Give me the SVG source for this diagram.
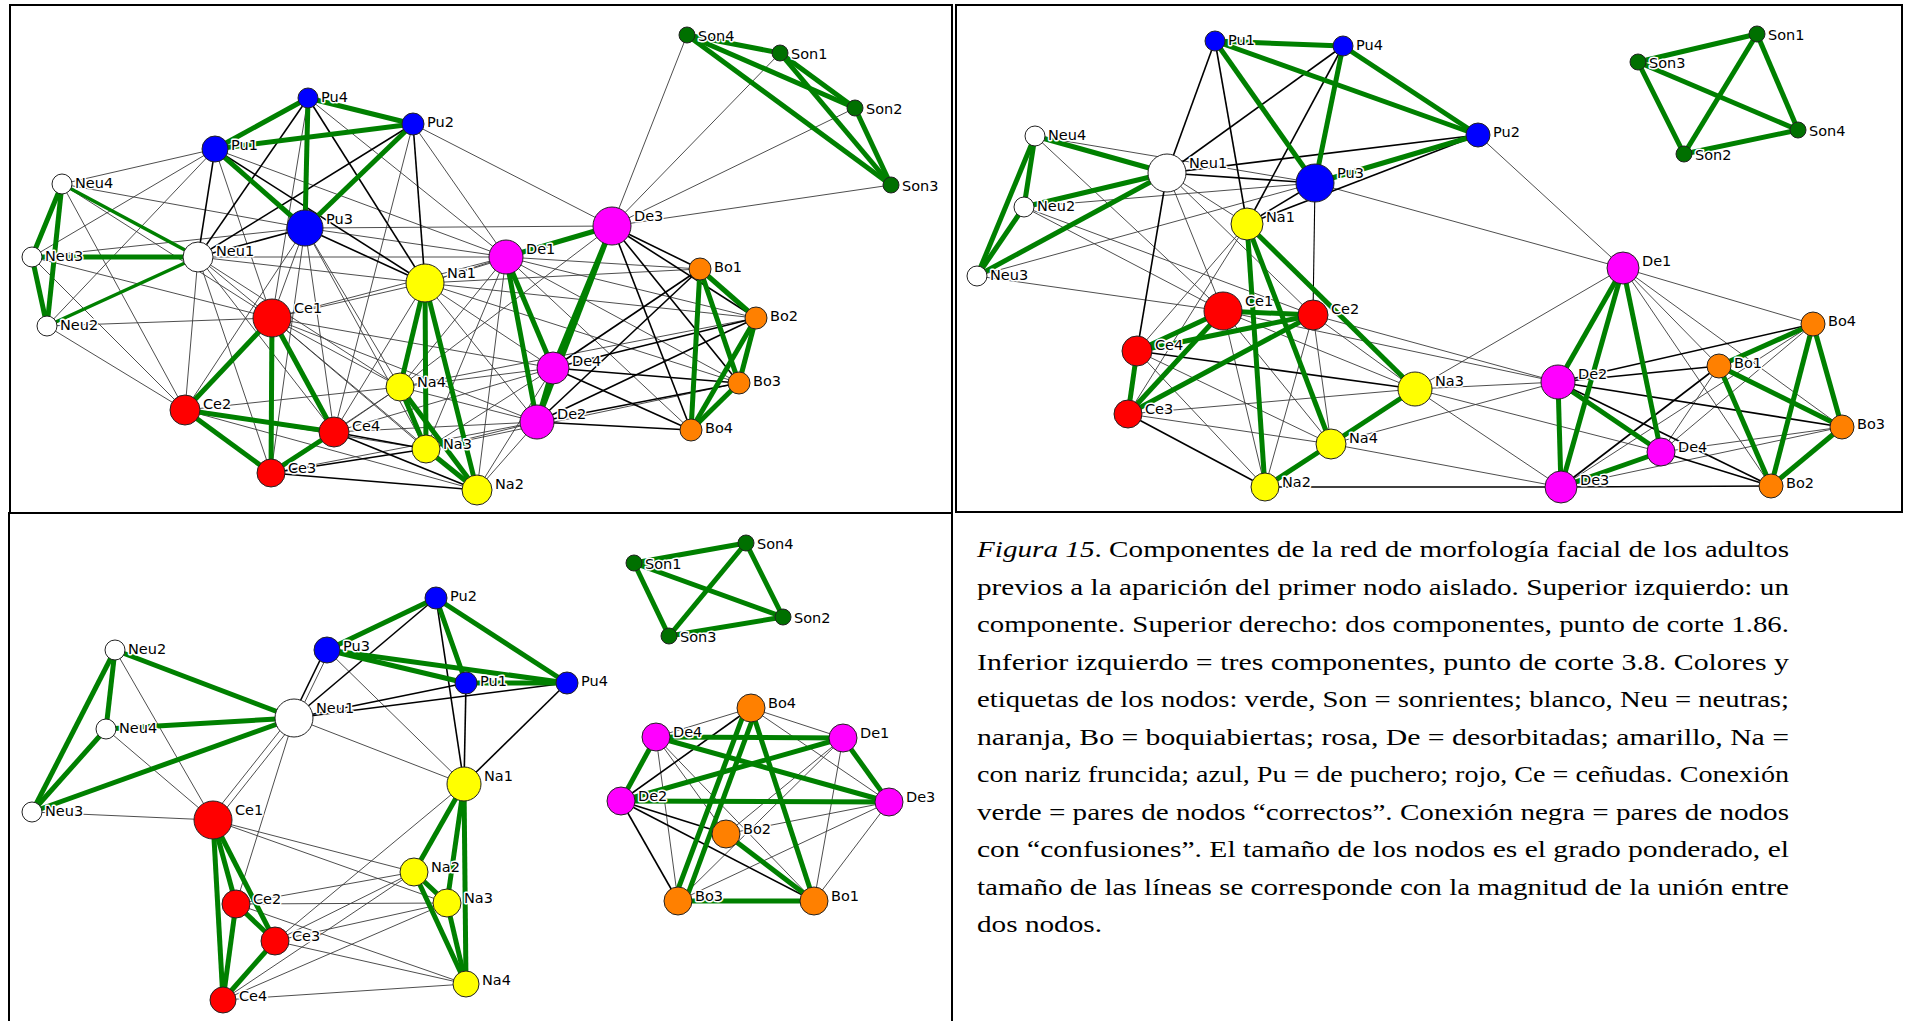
<svg xmlns="http://www.w3.org/2000/svg" width="1906" height="1021" viewBox="0 0 1906 1021">
<style>
.g{stroke:#008000;stroke-width:5}
.k{stroke:#000;stroke-width:1.6}
.t{stroke:#3a3a3a;stroke-width:0.9}
.n{stroke:#222;stroke-width:1}
.pu{fill:#0000ff}.neu{fill:#fff}.ce{fill:#ff0000}.na{fill:#ffff00}.de{fill:#ff00ff}.bo{fill:#ff8000}.so{fill:#007000}
.lb{font-family:'DejaVu Sans',Verdana,sans-serif;font-size:14.5px;fill:#000;stroke:#fff;stroke-width:3px;paint-order:stroke;stroke-linejoin:round}
.frame{fill:none;stroke:#000;stroke-width:2}
.cap{font-family:'Liberation Serif','Times New Roman',serif;font-size:24px;fill:#000}
</style>
<rect width="1906" height="1021" fill="#fff"/>
<g id="frames">
<rect class="frame" x="10" y="5" width="942" height="508"/>
<rect class="frame" x="956" y="5" width="946" height="507"/>
<rect class="frame" x="9" y="513" width="943" height="520"/>
</g>
<g id="connectors">
<!-- top-left thin -->
<line class="t" x1="215" y1="149" x2="62" y2="184"/>
<line class="t" x1="215" y1="149" x2="32" y2="257"/>
<line class="t" x1="215" y1="149" x2="47" y2="326"/>
<line class="t" x1="215" y1="149" x2="272" y2="318"/>
<line class="t" x1="215" y1="149" x2="506" y2="257"/>
<line class="t" x1="62" y1="184" x2="305" y2="228"/>
<line class="t" x1="62" y1="184" x2="185" y2="410"/>
<line class="t" x1="62" y1="184" x2="272" y2="318"/>
<line class="t" x1="32" y1="257" x2="305" y2="228"/>
<line class="t" x1="32" y1="257" x2="185" y2="410"/>
<line class="t" x1="32" y1="257" x2="272" y2="318"/>
<line class="t" x1="47" y1="326" x2="185" y2="410"/>
<line class="t" x1="47" y1="326" x2="272" y2="318"/>
<line class="t" x1="308" y1="98" x2="272" y2="318"/>
<line class="t" x1="308" y1="98" x2="506" y2="257"/>
<line class="t" x1="413" y1="124" x2="612" y2="226"/>
<line class="t" x1="413" y1="124" x2="506" y2="257"/>
<line class="t" x1="413" y1="124" x2="334" y2="432"/>
<line class="t" x1="305" y1="228" x2="612" y2="226"/>
<line class="t" x1="305" y1="228" x2="506" y2="257"/>
<line class="t" x1="305" y1="228" x2="272" y2="318"/>
<line class="t" x1="305" y1="228" x2="185" y2="410"/>
<line class="t" x1="305" y1="228" x2="271" y2="473"/>
<line class="t" x1="305" y1="228" x2="334" y2="432"/>
<line class="t" x1="305" y1="228" x2="400" y2="387"/>
<line class="t" x1="305" y1="228" x2="426" y2="449"/>
<line class="t" x1="198" y1="257" x2="272" y2="318"/>
<line class="t" x1="198" y1="257" x2="185" y2="410"/>
<line class="t" x1="198" y1="257" x2="271" y2="473"/>
<line class="t" x1="198" y1="257" x2="334" y2="432"/>
<line class="t" x1="198" y1="257" x2="425" y2="283"/>
<line class="t" x1="198" y1="257" x2="400" y2="387"/>
<line class="t" x1="198" y1="257" x2="506" y2="257"/>
<line class="t" x1="272" y1="318" x2="425" y2="283"/>
<line class="t" x1="272" y1="318" x2="400" y2="387"/>
<line class="t" x1="272" y1="318" x2="426" y2="449"/>
<line class="t" x1="272" y1="318" x2="477" y2="490"/>
<line class="t" x1="272" y1="318" x2="506" y2="257"/>
<line class="t" x1="272" y1="318" x2="553" y2="368"/>
<line class="t" x1="272" y1="318" x2="537" y2="422"/>
<line class="t" x1="185" y1="410" x2="400" y2="387"/>
<line class="t" x1="185" y1="410" x2="426" y2="449"/>
<line class="t" x1="185" y1="410" x2="477" y2="490"/>
<line class="t" x1="271" y1="473" x2="400" y2="387"/>
<line class="t" x1="334" y1="432" x2="400" y2="387"/>
<line class="t" x1="334" y1="432" x2="425" y2="283"/>
<line class="t" x1="334" y1="432" x2="553" y2="368"/>
<line class="t" x1="334" y1="432" x2="537" y2="422"/>
<line class="t" x1="271" y1="473" x2="537" y2="422"/>
<line class="t" x1="425" y1="283" x2="506" y2="257"/>
<line class="t" x1="425" y1="283" x2="553" y2="368"/>
<line class="t" x1="425" y1="283" x2="537" y2="422"/>
<line class="t" x1="425" y1="283" x2="700" y2="269"/>
<line class="t" x1="425" y1="283" x2="756" y2="318"/>
<line class="t" x1="425" y1="283" x2="739" y2="383"/>
<line class="t" x1="400" y1="387" x2="553" y2="368"/>
<line class="t" x1="400" y1="387" x2="537" y2="422"/>
<line class="t" x1="400" y1="387" x2="506" y2="257"/>
<line class="t" x1="400" y1="387" x2="756" y2="318"/>
<line class="t" x1="426" y1="449" x2="553" y2="368"/>
<line class="t" x1="426" y1="449" x2="537" y2="422"/>
<line class="t" x1="426" y1="449" x2="506" y2="257"/>
<line class="t" x1="426" y1="449" x2="739" y2="383"/>
<line class="t" x1="477" y1="490" x2="553" y2="368"/>
<line class="t" x1="477" y1="490" x2="537" y2="422"/>
<line class="t" x1="477" y1="490" x2="506" y2="257"/>
<line class="t" x1="506" y1="257" x2="700" y2="269"/>
<line class="t" x1="506" y1="257" x2="756" y2="318"/>
<line class="t" x1="506" y1="257" x2="739" y2="383"/>
<line class="t" x1="506" y1="257" x2="691" y2="430"/>
<line class="t" x1="612" y1="226" x2="687" y2="35"/>
<line class="t" x1="612" y1="226" x2="780" y2="53"/>
<line class="t" x1="612" y1="226" x2="855" y2="108"/>
<line class="t" x1="612" y1="226" x2="891" y2="185"/>
<line class="t" x1="612" y1="226" x2="425" y2="283"/>
<line class="t" x1="612" y1="226" x2="400" y2="387"/>
<!-- top-left black -->
<line class="k" x1="308" y1="98" x2="198" y2="257"/>
<line class="k" x1="215" y1="149" x2="198" y2="257"/>
<line class="k" x1="413" y1="124" x2="198" y2="257"/>
<line class="k" x1="308" y1="98" x2="425" y2="283"/>
<line class="k" x1="413" y1="124" x2="425" y2="283"/>
<line class="k" x1="215" y1="149" x2="425" y2="283"/>
<line class="k" x1="305" y1="228" x2="425" y2="283"/>
<line class="k" x1="305" y1="228" x2="198" y2="257"/>
<line class="k" x1="334" y1="432" x2="426" y2="449"/>
<line class="k" x1="334" y1="432" x2="477" y2="490"/>
<line class="k" x1="271" y1="473" x2="426" y2="449"/>
<line class="k" x1="271" y1="473" x2="477" y2="490"/>
<line class="k" x1="612" y1="226" x2="700" y2="269"/>
<line class="k" x1="612" y1="226" x2="756" y2="318"/>
<line class="k" x1="612" y1="226" x2="739" y2="383"/>
<line class="k" x1="612" y1="226" x2="691" y2="430"/>
<line class="k" x1="553" y1="368" x2="700" y2="269"/>
<line class="k" x1="553" y1="368" x2="756" y2="318"/>
<line class="k" x1="553" y1="368" x2="739" y2="383"/>
<line class="k" x1="553" y1="368" x2="691" y2="430"/>
<line class="k" x1="537" y1="422" x2="700" y2="269"/>
<line class="k" x1="537" y1="422" x2="756" y2="318"/>
<line class="k" x1="537" y1="422" x2="739" y2="383"/>
<line class="k" x1="537" y1="422" x2="691" y2="430"/>
<!-- top-left green -->
<line class="g" x1="308" y1="98" x2="215" y2="149"/>
<line class="g" x1="308" y1="98" x2="413" y2="124"/>
<line class="g" x1="215" y1="149" x2="413" y2="124"/>
<line class="g" x1="308" y1="98" x2="305" y2="228"/>
<line class="g" x1="215" y1="149" x2="305" y2="228"/>
<line class="g" x1="413" y1="124" x2="305" y2="228"/>
<line class="g" x1="62" y1="184" x2="32" y2="257"/>
<line class="g" x1="62" y1="184" x2="47" y2="326"/>
<line class="g" x1="32" y1="257" x2="47" y2="326"/>
<line class="g" x1="62" y1="184" x2="198" y2="257" style="stroke-width:3.5"/>
<line class="g" x1="32" y1="257" x2="198" y2="257"/>
<line class="g" x1="47" y1="326" x2="198" y2="257" style="stroke-width:3.5"/>
<line class="g" x1="272" y1="318" x2="185" y2="410"/>
<line class="g" x1="272" y1="318" x2="271" y2="473"/>
<line class="g" x1="272" y1="318" x2="334" y2="432"/>
<line class="g" x1="185" y1="410" x2="334" y2="432"/>
<line class="g" x1="185" y1="410" x2="271" y2="473"/>
<line class="g" x1="271" y1="473" x2="334" y2="432"/>
<line class="g" x1="425" y1="283" x2="400" y2="387"/>
<line class="g" x1="425" y1="283" x2="426" y2="449"/>
<line class="g" x1="425" y1="283" x2="477" y2="490"/>
<line class="g" x1="400" y1="387" x2="426" y2="449"/>
<line class="g" x1="400" y1="387" x2="477" y2="490"/>
<line class="g" x1="426" y1="449" x2="477" y2="490"/>
<line class="g" x1="506" y1="257" x2="612" y2="226"/>
<line class="g" x1="506" y1="257" x2="553" y2="368"/>
<line class="g" x1="506" y1="257" x2="537" y2="422"/>
<line class="g" x1="612" y1="226" x2="553" y2="368"/>
<line class="g" x1="612" y1="226" x2="537" y2="422"/>
<line class="g" x1="553" y1="368" x2="537" y2="422"/>
<line class="g" x1="700" y1="269" x2="756" y2="318"/>
<line class="g" x1="700" y1="269" x2="739" y2="383"/>
<line class="g" x1="700" y1="269" x2="691" y2="430"/>
<line class="g" x1="756" y1="318" x2="739" y2="383"/>
<line class="g" x1="756" y1="318" x2="691" y2="430"/>
<line class="g" x1="739" y1="383" x2="691" y2="430"/>
<line class="g" x1="687" y1="35" x2="780" y2="53"/>
<line class="g" x1="687" y1="35" x2="855" y2="108"/>
<line class="g" x1="687" y1="35" x2="891" y2="185"/>
<line class="g" x1="780" y1="53" x2="855" y2="108"/>
<line class="g" x1="780" y1="53" x2="891" y2="185"/>
<line class="g" x1="855" y1="108" x2="891" y2="185"/>
<!-- top-right thin -->
<line class="t" x1="1035" y1="136" x2="1315" y2="183"/>
<line class="t" x1="1035" y1="136" x2="1223" y2="311"/>
<line class="t" x1="1024" y1="207" x2="1315" y2="183"/>
<line class="t" x1="1024" y1="207" x2="1223" y2="311"/>
<line class="t" x1="1024" y1="207" x2="1313" y2="315"/>
<line class="t" x1="977" y1="276" x2="1315" y2="183"/>
<line class="t" x1="977" y1="276" x2="1223" y2="311"/>
<line class="t" x1="1167" y1="173" x2="1223" y2="311"/>
<line class="t" x1="1167" y1="173" x2="1313" y2="315"/>
<line class="t" x1="1167" y1="173" x2="1247" y2="224"/>
<line class="t" x1="1315" y1="183" x2="1623" y2="268"/>
<line class="t" x1="1478" y1="135" x2="1623" y2="268"/>
<line class="t" x1="1247" y1="224" x2="1137" y2="351"/>
<line class="t" x1="1247" y1="224" x2="1128" y2="414"/>
<line class="t" x1="1137" y1="351" x2="1331" y2="444"/>
<line class="t" x1="1137" y1="351" x2="1265" y2="487"/>
<line class="t" x1="1128" y1="414" x2="1415" y2="389"/>
<line class="t" x1="1128" y1="414" x2="1331" y2="444"/>
<line class="t" x1="1223" y1="311" x2="1415" y2="389"/>
<line class="t" x1="1223" y1="311" x2="1331" y2="444"/>
<line class="t" x1="1223" y1="311" x2="1265" y2="487"/>
<line class="t" x1="1313" y1="315" x2="1331" y2="444"/>
<line class="t" x1="1313" y1="315" x2="1265" y2="487"/>
<line class="t" x1="1313" y1="315" x2="1415" y2="389"/>
<line class="t" x1="1313" y1="315" x2="1558" y2="382"/>
<line class="t" x1="1223" y1="311" x2="1558" y2="382"/>
<line class="t" x1="1415" y1="389" x2="1558" y2="382"/>
<line class="t" x1="1415" y1="389" x2="1623" y2="268"/>
<line class="t" x1="1415" y1="389" x2="1561" y2="487"/>
<line class="t" x1="1415" y1="389" x2="1661" y2="452"/>
<line class="t" x1="1331" y1="444" x2="1558" y2="382"/>
<line class="t" x1="1331" y1="444" x2="1561" y2="487"/>
<line class="t" x1="1623" y1="268" x2="1813" y2="324"/>
<line class="t" x1="1623" y1="268" x2="1719" y2="366"/>
<line class="t" x1="1623" y1="268" x2="1842" y2="427"/>
<line class="t" x1="1623" y1="268" x2="1771" y2="486"/>
<line class="t" x1="1561" y1="487" x2="1813" y2="324"/>
<line class="t" x1="1561" y1="487" x2="1842" y2="427"/>
<line class="t" x1="1661" y1="452" x2="1813" y2="324"/>
<line class="t" x1="1661" y1="452" x2="1842" y2="427"/>
<line class="t" x1="1661" y1="452" x2="1719" y2="366"/>
<!-- top-right black -->
<line class="k" x1="1215" y1="41" x2="1167" y2="173"/>
<line class="k" x1="1215" y1="41" x2="1247" y2="224"/>
<line class="k" x1="1343" y1="46" x2="1167" y2="173"/>
<line class="k" x1="1343" y1="46" x2="1247" y2="224"/>
<line class="k" x1="1478" y1="135" x2="1167" y2="173"/>
<line class="k" x1="1478" y1="135" x2="1247" y2="224"/>
<line class="k" x1="1315" y1="183" x2="1247" y2="224"/>
<line class="k" x1="1167" y1="173" x2="1315" y2="183"/>
<line class="k" x1="1315" y1="183" x2="1313" y2="315" style="stroke-width:1.1"/>
<line class="k" x1="1167" y1="173" x2="1137" y2="351"/>
<line class="k" x1="1137" y1="351" x2="1415" y2="389"/>
<line class="k" x1="1128" y1="414" x2="1265" y2="487"/>
<line class="k" x1="1265" y1="487" x2="1561" y2="487"/>
<line class="k" x1="1558" y1="382" x2="1813" y2="324"/>
<line class="k" x1="1558" y1="382" x2="1719" y2="366"/>
<line class="k" x1="1558" y1="382" x2="1842" y2="427"/>
<line class="k" x1="1558" y1="382" x2="1771" y2="486"/>
<line class="k" x1="1561" y1="487" x2="1719" y2="366"/>
<line class="k" x1="1561" y1="487" x2="1771" y2="486"/>
<line class="k" x1="1661" y1="452" x2="1771" y2="486"/>
<!-- top-right green -->
<line class="g" x1="1215" y1="41" x2="1343" y2="46"/>
<line class="g" x1="1215" y1="41" x2="1478" y2="135"/>
<line class="g" x1="1215" y1="41" x2="1315" y2="183"/>
<line class="g" x1="1343" y1="46" x2="1478" y2="135"/>
<line class="g" x1="1343" y1="46" x2="1315" y2="183"/>
<line class="g" x1="1315" y1="183" x2="1478" y2="135"/>
<line class="g" x1="1035" y1="136" x2="1167" y2="173"/>
<line class="g" x1="1035" y1="136" x2="1024" y2="207"/>
<line class="g" x1="1035" y1="136" x2="977" y2="276"/>
<line class="g" x1="1024" y1="207" x2="977" y2="276"/>
<line class="g" x1="1167" y1="173" x2="1024" y2="207"/>
<line class="g" x1="1167" y1="173" x2="977" y2="276"/>
<line class="g" x1="1223" y1="311" x2="1313" y2="315"/>
<line class="g" x1="1223" y1="311" x2="1137" y2="351"/>
<line class="g" x1="1223" y1="311" x2="1128" y2="414"/>
<line class="g" x1="1313" y1="315" x2="1137" y2="351"/>
<line class="g" x1="1313" y1="315" x2="1128" y2="414"/>
<line class="g" x1="1137" y1="351" x2="1128" y2="414"/>
<line class="g" x1="1247" y1="224" x2="1265" y2="487"/>
<line class="g" x1="1247" y1="224" x2="1331" y2="444"/>
<line class="g" x1="1247" y1="224" x2="1415" y2="389"/>
<line class="g" x1="1415" y1="389" x2="1331" y2="444"/>
<line class="g" x1="1331" y1="444" x2="1265" y2="487"/>
<line class="g" x1="1623" y1="268" x2="1558" y2="382"/>
<line class="g" x1="1623" y1="268" x2="1561" y2="487"/>
<line class="g" x1="1623" y1="268" x2="1661" y2="452"/>
<line class="g" x1="1558" y1="382" x2="1561" y2="487"/>
<line class="g" x1="1558" y1="382" x2="1661" y2="452"/>
<line class="g" x1="1661" y1="452" x2="1561" y2="487"/>
<line class="g" x1="1813" y1="324" x2="1719" y2="366"/>
<line class="g" x1="1813" y1="324" x2="1771" y2="486"/>
<line class="g" x1="1813" y1="324" x2="1842" y2="427"/>
<line class="g" x1="1719" y1="366" x2="1842" y2="427"/>
<line class="g" x1="1719" y1="366" x2="1771" y2="486"/>
<line class="g" x1="1842" y1="427" x2="1771" y2="486"/>
<line class="g" x1="1757" y1="34" x2="1638" y2="62"/>
<line class="g" x1="1757" y1="34" x2="1684" y2="154"/>
<line class="g" x1="1757" y1="34" x2="1798" y2="130"/>
<line class="g" x1="1638" y1="62" x2="1684" y2="154"/>
<line class="g" x1="1638" y1="62" x2="1798" y2="130"/>
<line class="g" x1="1684" y1="154" x2="1798" y2="130"/>
<!-- bottom-left thin -->
<line class="t" x1="115" y1="650" x2="213" y2="820"/>
<line class="t" x1="106" y1="729" x2="213" y2="820"/>
<line class="t" x1="32" y1="812" x2="213" y2="820"/>
<line class="t" x1="290" y1="718" x2="209" y2="820"/>
<line class="t" x1="298" y1="718" x2="217" y2="820"/>
<line class="t" x1="294" y1="718" x2="236" y2="904"/>
<line class="t" x1="294" y1="718" x2="464" y2="784"/>
<line class="t" x1="327" y1="650" x2="464" y2="784"/>
<line class="t" x1="330" y1="650" x2="297" y2="718"/>
<line class="t" x1="213" y1="820" x2="447" y2="903"/>
<line class="t" x1="213" y1="820" x2="414" y2="872"/>
<line class="t" x1="236" y1="904" x2="414" y2="872"/>
<line class="t" x1="236" y1="904" x2="447" y2="903"/>
<line class="t" x1="236" y1="904" x2="466" y2="984"/>
<line class="t" x1="275" y1="941" x2="414" y2="872"/>
<line class="t" x1="275" y1="941" x2="447" y2="903"/>
<line class="t" x1="275" y1="941" x2="466" y2="984"/>
<line class="t" x1="223" y1="1000" x2="466" y2="984"/>
<line class="t" x1="223" y1="1000" x2="414" y2="872"/>
<line class="t" x1="223" y1="1000" x2="447" y2="903"/>
<line class="t" x1="464" y1="784" x2="275" y2="941"/>
<line class="t" x1="751" y1="708" x2="656" y2="737"/>
<line class="t" x1="751" y1="708" x2="843" y2="738"/>
<line class="t" x1="751" y1="708" x2="889" y2="802"/>
<line class="t" x1="656" y1="737" x2="726" y2="834"/>
<line class="t" x1="656" y1="737" x2="814" y2="901"/>
<line class="t" x1="656" y1="737" x2="678" y2="901"/>
<line class="t" x1="843" y1="738" x2="726" y2="834"/>
<line class="t" x1="843" y1="738" x2="678" y2="901"/>
<line class="t" x1="843" y1="738" x2="814" y2="901"/>
<line class="t" x1="889" y1="802" x2="726" y2="834"/>
<line class="t" x1="889" y1="802" x2="678" y2="901"/>
<line class="t" x1="889" y1="802" x2="814" y2="901"/>
<!-- bottom-left black -->
<line class="k" x1="436" y1="598" x2="294" y2="718"/>
<line class="k" x1="325" y1="650" x2="292" y2="718"/>
<line class="k" x1="466" y1="683" x2="294" y2="718"/>
<line class="k" x1="567" y1="683" x2="294" y2="718"/>
<line class="k" x1="436" y1="598" x2="464" y2="784"/>
<line class="k" x1="466" y1="683" x2="464" y2="784"/>
<line class="k" x1="567" y1="683" x2="464" y2="784"/>
<line class="k" x1="751" y1="708" x2="621" y2="801"/>
<line class="k" x1="621" y1="801" x2="814" y2="901"/>
<line class="k" x1="621" y1="801" x2="726" y2="834"/>
<line class="k" x1="621" y1="801" x2="678" y2="901"/>
<!-- bottom-left green -->
<line class="g" x1="436" y1="598" x2="327" y2="650"/>
<line class="g" x1="436" y1="598" x2="466" y2="683"/>
<line class="g" x1="436" y1="598" x2="567" y2="683"/>
<line class="g" x1="327" y1="650" x2="466" y2="683"/>
<line class="g" x1="327" y1="650" x2="567" y2="683"/>
<line class="g" x1="466" y1="683" x2="567" y2="683"/>
<line class="g" x1="115" y1="650" x2="294" y2="718"/>
<line class="g" x1="115" y1="650" x2="106" y2="729"/>
<line class="g" x1="115" y1="650" x2="32" y2="812"/>
<line class="g" x1="106" y1="729" x2="294" y2="718"/>
<line class="g" x1="106" y1="729" x2="32" y2="812"/>
<line class="g" x1="32" y1="812" x2="294" y2="718"/>
<line class="g" x1="213" y1="820" x2="236" y2="904"/>
<line class="g" x1="213" y1="820" x2="275" y2="941"/>
<line class="g" x1="213" y1="820" x2="223" y2="1000"/>
<line class="g" x1="236" y1="904" x2="275" y2="941"/>
<line class="g" x1="236" y1="904" x2="223" y2="1000"/>
<line class="g" x1="275" y1="941" x2="223" y2="1000"/>
<line class="g" x1="464" y1="784" x2="414" y2="872"/>
<line class="g" x1="464" y1="784" x2="447" y2="903"/>
<line class="g" x1="464" y1="784" x2="466" y2="984"/>
<line class="g" x1="414" y1="872" x2="447" y2="903"/>
<line class="g" x1="414" y1="872" x2="466" y2="984"/>
<line class="g" x1="447" y1="903" x2="466" y2="984"/>
<line class="g" x1="634" y1="563" x2="746" y2="543"/>
<line class="g" x1="634" y1="563" x2="669" y2="636"/>
<line class="g" x1="634" y1="563" x2="783" y2="617"/>
<line class="g" x1="746" y1="543" x2="669" y2="636"/>
<line class="g" x1="746" y1="543" x2="783" y2="617"/>
<line class="g" x1="669" y1="636" x2="783" y2="617"/>
<line class="g" x1="656" y1="737" x2="843" y2="738"/>
<line class="g" x1="656" y1="737" x2="889" y2="802"/>
<line class="g" x1="656" y1="737" x2="621" y2="801"/>
<line class="g" x1="621" y1="801" x2="843" y2="738"/>
<line class="g" x1="621" y1="801" x2="889" y2="802"/>
<line class="g" x1="843" y1="738" x2="889" y2="802"/>
<line class="g" x1="746" y1="708" x2="674" y2="900"/>
<line class="g" x1="756" y1="710" x2="685" y2="902"/>
<line class="g" x1="751" y1="708" x2="814" y2="901"/>
<line class="g" x1="678" y1="901" x2="814" y2="901"/>
<line class="g" x1="726" y1="834" x2="814" y2="901"/>
</g>
<g id="tl-nodes">
<g id="tl-pu1"><circle class="n pu" cx="215" cy="149" r="13"/><text class="lb" x="231" y="150">Pu1</text></g>
<g id="tl-pu2"><circle class="n pu" cx="413" cy="124" r="11"/><text class="lb" x="427" y="127">Pu2</text></g>
<g id="tl-pu3"><circle class="n pu" cx="305" cy="228" r="18"/><text class="lb" x="326" y="224">Pu3</text></g>
<g id="tl-pu4"><circle class="n pu" cx="308" cy="98" r="10"/><text class="lb" x="321" y="102">Pu4</text></g>
<g id="tl-neu1"><circle class="n neu" cx="198" cy="257" r="15"/><text class="lb" x="216" y="256">Neu1</text></g>
<g id="tl-neu2"><circle class="n neu" cx="47" cy="326" r="10"/><text class="lb" x="60" y="330">Neu2</text></g>
<g id="tl-neu3"><circle class="n neu" cx="32" cy="257" r="10"/><text class="lb" x="45" y="261">Neu3</text></g>
<g id="tl-neu4"><circle class="n neu" cx="62" cy="184" r="10"/><text class="lb" x="75" y="188">Neu4</text></g>
<g id="tl-ce1"><circle class="n ce" cx="272" cy="318" r="19"/><text class="lb" x="294" y="313">Ce1</text></g>
<g id="tl-ce2"><circle class="n ce" cx="185" cy="410" r="15"/><text class="lb" x="203" y="409">Ce2</text></g>
<g id="tl-ce3"><circle class="n ce" cx="271" cy="473" r="14"/><text class="lb" x="288" y="473">Ce3</text></g>
<g id="tl-ce4"><circle class="n ce" cx="334" cy="432" r="15"/><text class="lb" x="352" y="431">Ce4</text></g>
<g id="tl-na1"><circle class="n na" cx="425" cy="283" r="19"/><text class="lb" x="447" y="278">Na1</text></g>
<g id="tl-na2"><circle class="n na" cx="477" cy="490" r="15"/><text class="lb" x="495" y="489">Na2</text></g>
<g id="tl-na3"><circle class="n na" cx="426" cy="449" r="14"/><text class="lb" x="443" y="449">Na3</text></g>
<g id="tl-na4"><circle class="n na" cx="400" cy="387" r="14"/><text class="lb" x="417" y="387">Na4</text></g>
<g id="tl-de1"><circle class="n de" cx="506" cy="257" r="17"/><text class="lb" x="526" y="254">De1</text></g>
<g id="tl-de2"><circle class="n de" cx="537" cy="422" r="17"/><text class="lb" x="557" y="419">De2</text></g>
<g id="tl-de3"><circle class="n de" cx="612" cy="226" r="19"/><text class="lb" x="634" y="221">De3</text></g>
<g id="tl-de4"><circle class="n de" cx="553" cy="368" r="16"/><text class="lb" x="572" y="366">De4</text></g>
<g id="tl-bo1"><circle class="n bo" cx="700" cy="269" r="11"/><text class="lb" x="714" y="272">Bo1</text></g>
<g id="tl-bo2"><circle class="n bo" cx="756" cy="318" r="11"/><text class="lb" x="770" y="321">Bo2</text></g>
<g id="tl-bo3"><circle class="n bo" cx="739" cy="383" r="11"/><text class="lb" x="753" y="386">Bo3</text></g>
<g id="tl-bo4"><circle class="n bo" cx="691" cy="430" r="11"/><text class="lb" x="705" y="433">Bo4</text></g>
<g id="tl-son1"><circle class="n so" cx="780" cy="53" r="8"/><text class="lb" x="791" y="59">Son1</text></g>
<g id="tl-son2"><circle class="n so" cx="855" cy="108" r="8"/><text class="lb" x="866" y="114">Son2</text></g>
<g id="tl-son3"><circle class="n so" cx="891" cy="185" r="8"/><text class="lb" x="902" y="191">Son3</text></g>
<g id="tl-son4"><circle class="n so" cx="687" cy="35" r="8"/><text class="lb" x="698" y="41">Son4</text></g>
</g>
<g id="tr-nodes">
<g id="tr-pu1"><circle class="n pu" cx="1215" cy="41" r="10"/><text class="lb" x="1228" y="45">Pu1</text></g>
<g id="tr-pu2"><circle class="n pu" cx="1478" cy="135" r="12"/><text class="lb" x="1493" y="137">Pu2</text></g>
<g id="tr-pu3"><circle class="n pu" cx="1315" cy="183" r="19"/><text class="lb" x="1337" y="178">Pu3</text></g>
<g id="tr-pu4"><circle class="n pu" cx="1343" cy="46" r="10"/><text class="lb" x="1356" y="50">Pu4</text></g>
<g id="tr-neu1"><circle class="n neu" cx="1167" cy="173" r="19"/><text class="lb" x="1189" y="168">Neu1</text></g>
<g id="tr-neu2"><circle class="n neu" cx="1024" cy="207" r="10"/><text class="lb" x="1037" y="211">Neu2</text></g>
<g id="tr-neu3"><circle class="n neu" cx="977" cy="276" r="10"/><text class="lb" x="990" y="280">Neu3</text></g>
<g id="tr-neu4"><circle class="n neu" cx="1035" cy="136" r="10"/><text class="lb" x="1048" y="140">Neu4</text></g>
<g id="tr-ce1"><circle class="n ce" cx="1223" cy="311" r="19"/><text class="lb" x="1245" y="306">Ce1</text></g>
<g id="tr-ce2"><circle class="n ce" cx="1313" cy="315" r="15"/><text class="lb" x="1331" y="314">Ce2</text></g>
<g id="tr-ce3"><circle class="n ce" cx="1128" cy="414" r="14"/><text class="lb" x="1145" y="414">Ce3</text></g>
<g id="tr-ce4"><circle class="n ce" cx="1137" cy="351" r="15"/><text class="lb" x="1155" y="350">Ce4</text></g>
<g id="tr-na1"><circle class="n na" cx="1247" cy="224" r="16"/><text class="lb" x="1266" y="222">Na1</text></g>
<g id="tr-na2"><circle class="n na" cx="1265" cy="487" r="14"/><text class="lb" x="1282" y="487">Na2</text></g>
<g id="tr-na3"><circle class="n na" cx="1415" cy="389" r="17"/><text class="lb" x="1435" y="386">Na3</text></g>
<g id="tr-na4"><circle class="n na" cx="1331" cy="444" r="15"/><text class="lb" x="1349" y="443">Na4</text></g>
<g id="tr-de1"><circle class="n de" cx="1623" cy="268" r="16"/><text class="lb" x="1642" y="266">De1</text></g>
<g id="tr-de2"><circle class="n de" cx="1558" cy="382" r="17"/><text class="lb" x="1578" y="379">De2</text></g>
<g id="tr-de3"><circle class="n de" cx="1561" cy="487" r="16"/><text class="lb" x="1580" y="485">De3</text></g>
<g id="tr-de4"><circle class="n de" cx="1661" cy="452" r="14"/><text class="lb" x="1678" y="452">De4</text></g>
<g id="tr-bo1"><circle class="n bo" cx="1719" cy="366" r="12"/><text class="lb" x="1734" y="368">Bo1</text></g>
<g id="tr-bo2"><circle class="n bo" cx="1771" cy="486" r="12"/><text class="lb" x="1786" y="488">Bo2</text></g>
<g id="tr-bo3"><circle class="n bo" cx="1842" cy="427" r="12"/><text class="lb" x="1857" y="429">Bo3</text></g>
<g id="tr-bo4"><circle class="n bo" cx="1813" cy="324" r="12"/><text class="lb" x="1828" y="326">Bo4</text></g>
<g id="tr-son1"><circle class="n so" cx="1757" cy="34" r="8"/><text class="lb" x="1768" y="40">Son1</text></g>
<g id="tr-son2"><circle class="n so" cx="1684" cy="154" r="8"/><text class="lb" x="1695" y="160">Son2</text></g>
<g id="tr-son3"><circle class="n so" cx="1638" cy="62" r="8"/><text class="lb" x="1649" y="68">Son3</text></g>
<g id="tr-son4"><circle class="n so" cx="1798" cy="130" r="8"/><text class="lb" x="1809" y="136">Son4</text></g>
</g>
<g id="bl-nodes">
<g id="bl-pu1"><circle class="n pu" cx="466" cy="683" r="11"/><text class="lb" x="480" y="686">Pu1</text></g>
<g id="bl-pu2"><circle class="n pu" cx="436" cy="598" r="11"/><text class="lb" x="450" y="601">Pu2</text></g>
<g id="bl-pu3"><circle class="n pu" cx="327" cy="650" r="13"/><text class="lb" x="343" y="651">Pu3</text></g>
<g id="bl-pu4"><circle class="n pu" cx="567" cy="683" r="11"/><text class="lb" x="581" y="686">Pu4</text></g>
<g id="bl-neu1"><circle class="n neu" cx="294" cy="718" r="19"/><text class="lb" x="316" y="713">Neu1</text></g>
<g id="bl-neu2"><circle class="n neu" cx="115" cy="650" r="10"/><text class="lb" x="128" y="654">Neu2</text></g>
<g id="bl-neu3"><circle class="n neu" cx="32" cy="812" r="10"/><text class="lb" x="45" y="816">Neu3</text></g>
<g id="bl-neu4"><circle class="n neu" cx="106" cy="729" r="10"/><text class="lb" x="119" y="733">Neu4</text></g>
<g id="bl-ce1"><circle class="n ce" cx="213" cy="820" r="19"/><text class="lb" x="235" y="815">Ce1</text></g>
<g id="bl-ce2"><circle class="n ce" cx="236" cy="904" r="14"/><text class="lb" x="253" y="904">Ce2</text></g>
<g id="bl-ce3"><circle class="n ce" cx="275" cy="941" r="14"/><text class="lb" x="292" y="941">Ce3</text></g>
<g id="bl-ce4"><circle class="n ce" cx="223" cy="1000" r="13"/><text class="lb" x="239" y="1001">Ce4</text></g>
<g id="bl-na1"><circle class="n na" cx="464" cy="784" r="17"/><text class="lb" x="484" y="781">Na1</text></g>
<g id="bl-na2"><circle class="n na" cx="414" cy="872" r="14"/><text class="lb" x="431" y="872">Na2</text></g>
<g id="bl-na3"><circle class="n na" cx="447" cy="903" r="14"/><text class="lb" x="464" y="903">Na3</text></g>
<g id="bl-na4"><circle class="n na" cx="466" cy="984" r="13"/><text class="lb" x="482" y="985">Na4</text></g>
<g id="bl-de1"><circle class="n de" cx="843" cy="738" r="14"/><text class="lb" x="860" y="738">De1</text></g>
<g id="bl-de2"><circle class="n de" cx="621" cy="801" r="14"/><text class="lb" x="638" y="801">De2</text></g>
<g id="bl-de3"><circle class="n de" cx="889" cy="802" r="14"/><text class="lb" x="906" y="802">De3</text></g>
<g id="bl-de4"><circle class="n de" cx="656" cy="737" r="14"/><text class="lb" x="673" y="737">De4</text></g>
<g id="bl-bo1"><circle class="n bo" cx="814" cy="901" r="14"/><text class="lb" x="831" y="901">Bo1</text></g>
<g id="bl-bo2"><circle class="n bo" cx="726" cy="834" r="14"/><text class="lb" x="743" y="834">Bo2</text></g>
<g id="bl-bo3"><circle class="n bo" cx="678" cy="901" r="14"/><text class="lb" x="695" y="901">Bo3</text></g>
<g id="bl-bo4"><circle class="n bo" cx="751" cy="708" r="14"/><text class="lb" x="768" y="708">Bo4</text></g>
<g id="bl-son1"><circle class="n so" cx="634" cy="563" r="8"/><text class="lb" x="645" y="569">Son1</text></g>
<g id="bl-son2"><circle class="n so" cx="783" cy="617" r="8"/><text class="lb" x="794" y="623">Son2</text></g>
<g id="bl-son3"><circle class="n so" cx="669" cy="636" r="8"/><text class="lb" x="680" y="642">Son3</text></g>
<g id="bl-son4"><circle class="n so" cx="746" cy="543" r="8"/><text class="lb" x="757" y="549">Son4</text></g>
</g>
<g id="caption" class="cap">
<text x="977" y="557" textLength="812" lengthAdjust="spacingAndGlyphs"><tspan font-style="italic">Figura 15</tspan>. Componentes de la red de morfología facial de los adultos</text>
<text x="977" y="594.5" textLength="812" lengthAdjust="spacingAndGlyphs">previos a la aparición del primer nodo aislado. Superior izquierdo: un</text>
<text x="977" y="632" textLength="812" lengthAdjust="spacingAndGlyphs">componente. Superior derecho: dos componentes, punto de corte 1.86.</text>
<text x="977" y="669.5" textLength="812" lengthAdjust="spacingAndGlyphs">Inferior izquierdo = tres componentes, punto de corte 3.8. Colores y</text>
<text x="977" y="707" textLength="812" lengthAdjust="spacingAndGlyphs">etiquetas de los nodos: verde, Son = sonrientes; blanco, Neu = neutras;</text>
<text x="977" y="744.5" textLength="812" lengthAdjust="spacingAndGlyphs">naranja, Bo = boquiabiertas; rosa, De = desorbitadas; amarillo, Na =</text>
<text x="977" y="782" textLength="812" lengthAdjust="spacingAndGlyphs">con nariz fruncida; azul, Pu = de puchero; rojo, Ce = ceñudas. Conexión</text>
<text x="977" y="819.5" textLength="812" lengthAdjust="spacingAndGlyphs">verde = pares de nodos “correctos”. Conexión negra = pares de nodos</text>
<text x="977" y="857" textLength="812" lengthAdjust="spacingAndGlyphs">con “confusiones”. El tamaño de los nodos es el grado ponderado, el</text>
<text x="977" y="894.5" textLength="812" lengthAdjust="spacingAndGlyphs">tamaño de las líneas se corresponde con la magnitud de la unión entre</text>
<text x="977" y="932" textLength="125" lengthAdjust="spacingAndGlyphs">dos nodos.</text>
</g>
</svg>
